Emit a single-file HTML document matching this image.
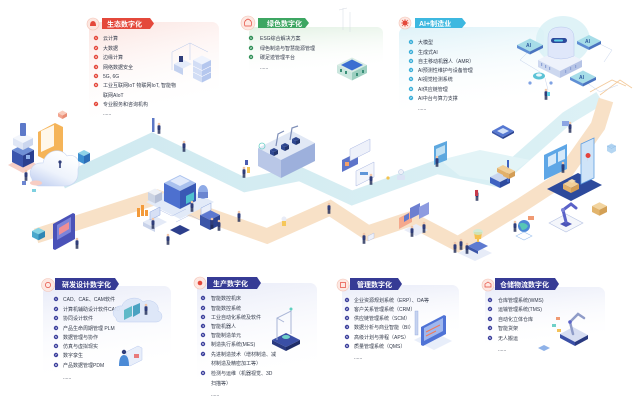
<!DOCTYPE html>
<html><head><meta charset="utf-8">
<style>
html,body{margin:0;padding:0;background:#fff;}
svg{display:block;}
text{font-family:"Liberation Sans","Noto Sans CJK SC",sans-serif;}
.it{font-size:5px;fill:#333a4a;}
.tb{font-size:7px;font-weight:bold;fill:#fff;}
.n{font-size:3px;fill:#fff;font-weight:bold;}
</style></head>
<body>
<svg width="634" height="404" viewBox="0 0 634 404" xmlns="http://www.w3.org/2000/svg">
<defs>
<linearGradient id="gPink" x1="0" y1="0" x2="0.3" y2="1"><stop offset="0" stop-color="#fbe3df"/><stop offset="1" stop-color="#fff" stop-opacity="0"/></linearGradient>
<linearGradient id="gGreen" x1="0" y1="0" x2="0.2" y2="1"><stop offset="0" stop-color="#e2f1e3"/><stop offset="1" stop-color="#fff" stop-opacity="0"/></linearGradient>
<linearGradient id="gCyan" x1="0" y1="0" x2="0.2" y2="1"><stop offset="0" stop-color="#def2f8"/><stop offset="1" stop-color="#fff" stop-opacity="0"/></linearGradient>
<linearGradient id="gLav" x1="0" y1="0" x2="0.2" y2="1"><stop offset="0" stop-color="#e8ebf8"/><stop offset="1" stop-color="#fff" stop-opacity="0"/></linearGradient>
<linearGradient id="gBlue" x1="0" y1="0" x2="1" y2="0"><stop offset="0" stop-color="#cfe9f0"/><stop offset="1" stop-color="#dcf1f5"/></linearGradient>
<linearGradient id="gCloud" x1="0" y1="1" x2="0.6" y2="0"><stop offset="0" stop-color="#b9c9ef"/><stop offset="0.5" stop-color="#eef3fc"/><stop offset="1" stop-color="#ffffff"/></linearGradient>
<g id="p"><circle cx="0" cy="-9" r="1.3" fill="#f1c6a8"/><rect x="-1.5" y="-7.7" width="3" height="4.7" rx="0.8" fill="#2f3d7a"/><rect x="-1.3" y="-3.2" width="1.1" height="4" fill="#1f2a55"/><rect x="0.2" y="-3.2" width="1.1" height="4" fill="#1f2a55"/></g>
</defs>

<!-- card backgrounds -->
<rect x="89" y="22" width="130" height="98" rx="7" fill="url(#gPink)"/>
<rect x="249" y="27" width="134" height="48" rx="6" fill="url(#gGreen)"/>
<rect x="399" y="27" width="145" height="88" rx="7" fill="url(#gCyan)"/>
<rect x="43" y="286" width="128" height="95" rx="7" fill="url(#gLav)"/>
<rect x="197" y="283" width="120" height="105" rx="7" fill="url(#gLav)"/>
<rect x="342" y="285" width="117" height="62" rx="7" fill="url(#gLav)"/>
<rect x="485" y="287" width="120" height="62" rx="7" fill="url(#gLav)"/>

<!-- bands -->
<polyline points="62,182 152,140 245,185 300,174 352,198 437,167 497,180 567,118 600,98" fill="none" stroke="url(#gBlue)" stroke-width="14" stroke-linejoin="miter"/>
<polygon points="440,160 480,150 530,160 500,182 460,176" fill="#e3f4f7"/>
<polyline points="36,236 157,197 267,236 330,208 368,233 410,219 458,244 520,206 560,180 598,126 606,100" fill="none" stroke="#f8e1c7" stroke-width="15" stroke-linejoin="miter"/>
<polyline points="600,95 620,80 632,88" fill="none" stroke="#f3c99a" stroke-width="0.8"/>
<polyline points="590,92 612,80 626,86" fill="none" stroke="#f3c99a" stroke-width="0.8"/>

<!-- ===== left cluster ===== -->
<polygon points="8,165 23,157 38,165 23,173" fill="#f7cfc6"/>
<polygon points="12,150 23,144.5 34,150 23,155.5" fill="#6f8fd6"/>
<polygon points="12,150 23,155.5 23,167.5 12,162" fill="#3a55ad"/>
<polygon points="23,155.5 34,150 34,162 23,167.5" fill="#2a3f8f"/>
<polygon points="13,138 23,133 33,138 23,143" fill="#f3f6fc"/>
<polygon points="13,138 23,143 23,150 13,145" fill="#dfe6f5"/>
<polygon points="23,143 33,138 33,145 23,150" fill="#cbd6ee"/>
<rect x="20" y="123" width="6" height="13" rx="1" fill="#5c79c9"/>
<rect x="26" y="155" width="4" height="4" fill="#8fb0ea"/>
<polygon points="38,132 55,123 63,127 63,152 46,160 38,156" fill="#f5b458"/>
<polygon points="41,131 54,125 54,146 41,152" fill="#fff7ea"/>
<polygon points="46,160 63,152 63,156 46,162" fill="#e3953a"/>
<path d="M32,179 C27,171 33,162 43,163 C45,151 60,146 67,156 C75,153 82,161 78,169 L78,174 C78,181 72,186 65,186 L40,186 C35,186 32,183 32,179Z" fill="url(#gCloud)" stroke="#c8d5f1" stroke-width="0.6"/>
<circle cx="60" cy="162" r="1.6" fill="#2f3d7a"/><rect x="59.2" y="163" width="1.6" height="5" fill="#2f3d7a"/>
<polygon points="78,153 84,150 90,153 84,156" fill="#8fd3e8"/>
<polygon points="78,153 84,156 84,164 78,161" fill="#3d8fd0"/>
<polygon points="84,156 90,153 90,161 84,164" fill="#2d6fb8"/>
<polygon points="58,113 62.5,110.5 67,113 62.5,115.5" fill="#f9cbbb"/>
<polygon points="58,113 62.5,115.5 62.5,119 58,116.5" fill="#f2a48e"/>
<polygon points="62.5,115.5 67,113 67,116.5 62.5,119" fill="#e98d75"/>
<ellipse cx="36" cy="183" rx="6" ry="2.5" fill="#f7cdc4"/>
<rect x="22" y="181" width="4" height="4" fill="#6c86d1"/>
<rect x="32" y="189" width="4" height="3" fill="#7fd0e0"/>
<use href="#p" x="26" y="180"/>

<!-- left bottom -->
<polygon points="32,231 38.5,227.75 45,231 38.5,234.25" fill="#86d4e4"/>
<polygon points="32,231 38.5,234.25 38.5,240.25 32,237" fill="#4aa8cc"/>
<polygon points="38.5,234.25 45,231 45,237 38.5,240.25" fill="#2e86b4"/>
<polygon points="53,224 73,213 75,214 75,239 55,250 53,249" fill="#4a52b8"/>
<polygon points="57,225 71,217 71,232 57,240" fill="#7d84d9"/>
<polygon points="59,228 69,222 69,229 59,235" fill="#ef8f95"/>
<use href="#p" x="77" y="248"/>

<!-- people on blue path -->
<rect x="152" y="118" width="2.5" height="14" fill="#5d78c6"/>
<use href="#p" x="159" y="133"/>
<use href="#p" x="184" y="151"/>
<use href="#p" x="244" y="177"/>
<rect x="247" y="167" width="3" height="6" fill="#f6c75a"/>

<!-- machine -->
<polygon points="258,148 292,131 315,143 281,160" fill="#e1e8f5"/>
<polygon points="258,148 281,160 281,178 258,166" fill="#b9c7e7"/>
<polygon points="281,160 315,143 315,161 281,178" fill="#9db0dc"/>
<g fill="#2f4790">
<polygon points="270,150 274,148 278,150 274,152"/><polygon points="270,150 274,152 274,156 270,154"/><polygon points="274,152 278,150 278,154 274,156" fill="#23356e"/>
<polygon points="281,145 285,143 289,145 285,147"/><polygon points="281,145 285,147 285,151 281,149"/><polygon points="285,147 289,145 289,149 285,151" fill="#23356e"/>
<polygon points="292,139 296,137 300,139 296,141"/><polygon points="292,139 296,141 296,145 292,143"/><polygon points="296,141 300,139 300,143 296,145" fill="#23356e"/>
</g>
<g stroke="#7f8fb8" stroke-width="1.2" fill="none"><polyline points="276,146 278,134 284,131"/><polyline points="290,140 292,128 298,126"/></g>
<circle cx="262" cy="146" r="3" fill="none" stroke="#6fd0c8" stroke-width="0.8"/>
<rect x="245" y="160" width="3" height="5" fill="#4a5bb0"/>

<!-- middle server cluster -->
<polygon points="146,202 180,185 214,202 180,219" fill="#e2eaf8"/>
<polygon points="148,192 155,188.5 162,192 155,195.5" fill="#eef1f7"/>
<polygon points="148,192 155,195.5 155,203.5 148,200" fill="#ccd4e4"/>
<polygon points="155,195.5 162,192 162,200 155,203.5" fill="#b5bfd6"/>
<polygon points="164,183 180,175 196,183 180,191" fill="#a9c1ee"/>
<polygon points="164,183 180,191 180,209 164,201" fill="#4d70cf"/>
<polygon points="180,191 196,183 196,201 180,209" fill="#3959b5"/>
<polygon points="170,181 180,176 190,181 180,186" fill="#e1eafb"/>
<polygon points="186,196 194,192 194,200 186,204" fill="#4fc1cf"/>
<ellipse cx="203" cy="192" rx="5" ry="7" fill="#8eaae6"/>
<rect x="198" y="192" width="10" height="6" fill="#6a85d0"/>
<g fill="#f39a3a"><rect x="137" y="208" width="3" height="9"/><rect x="141" y="205" width="3" height="11"/><rect x="145" y="210" width="3" height="6"/></g>
<polygon points="143,222 155,216 167,222 155,228" fill="#e4eaf7"/>
<polygon points="143,222 155,228 155,232 143,226" fill="#c9d3ea"/>
<polygon points="150,212 160,207 160,215 150,220" fill="#d7e0f5" stroke="#8ea6de" stroke-width="0.5"/>
<polygon points="170,230 180,225 190,230 180,235" fill="#2d3f8c"/>
<polygon points="200,215 210,210 220,215 210,220" fill="#5d78d0"/>
<polygon points="200,215 210,220 210,230 200,225" fill="#3b55a8"/>
<polygon points="210,220 220,215 220,225 210,230" fill="#2c4290"/>
<polygon points="201,208 211,203 211,210 201,215" fill="#e9eef9" stroke="#8ea6de" stroke-width="0.5"/>
<g stroke="#9fb3e0" stroke-width="0.4" fill="none"><polyline points="160,210 172,216 186,209"/><polyline points="176,222 190,215 200,220"/></g>
<use href="#p" x="153" y="228"/>
<use href="#p" x="168" y="244"/>
<use href="#p" x="212" y="228"/>
<use href="#p" x="219" y="230"/>
<use href="#p" x="239" y="221"/>
<circle cx="284" cy="219" r="2.5" fill="#e8ecf7"/><rect x="282" y="221" width="4" height="5" fill="#f6c75a"/>
<use href="#p" x="192" y="211"/>

<!-- center-right screens -->
<polygon points="342,160 358,152 358,164 342,172" fill="#5d74c9"/>
<rect x="345" y="162" width="4" height="4" fill="#f3a06a"/>
<polygon points="350,149 370,139 370,151 350,161" fill="#eef1fa" stroke="#a9b7e2" stroke-width="0.5"/>
<polygon points="356,171 374,162 374,177 356,186" fill="#f3f5fb" stroke="#a9b7e2" stroke-width="0.5"/>
<rect x="360" y="172" width="8" height="3" fill="#5f96d8"/>
<use href="#p" x="371" y="184"/>
<polygon points="434,146 447,141 447,160 434,165" fill="#5ea8df"/>
<polygon points="436,149 445,145 445,153 436,157" fill="#bfe0f3"/>
<use href="#p" x="437" y="166"/>
<circle cx="401" cy="172" r="2.5" fill="#eef1f8" stroke="#9fb0da" stroke-width="0.4"/><rect x="397" y="175" width="8" height="5" rx="1" fill="#dbe3f5"/>
<circle cx="388" cy="178" r="1.6" fill="#f4c34f"/>
<polygon points="492,131 503,125 514,131 503,137" fill="#5678d2"/>
<polygon points="492,131 503,137 503,139 492,133" fill="#3a56a8"/>
<polygon points="503,137 514,131 514,133 503,139" fill="#2c4490"/>
<polygon points="497,131 503,128 509,131 503,134" fill="#d4e2f8"/>
<!-- forklift -->
<polygon points="490,177 500,172 510,177 500,182" fill="#c9d6ef"/>
<polygon points="490,177 500,182 500,188 490,183" fill="#3f63c2"/>
<polygon points="500,182 510,177 510,183 500,188" fill="#2e4a9e"/>
<rect x="507" y="160" width="2" height="22" fill="#3f63c2"/>
<polygon points="503,171 509,168 515,171 509,174" fill="#f2cf98"/>
<polygon points="503,171 509,174 509,179 503,176" fill="#e2b06a"/>
<polygon points="509,174 515,171 515,176 509,179" fill="#d39d55"/>
<polygon points="497,168 503,165 509,168 503,171" fill="#f2cf98"/>
<polygon points="497,168 503,171 503,175 497,172" fill="#e2b06a"/>
<use href="#p" x="477" y="200"/>
<rect x="475" y="190" width="3" height="6" fill="#c73a4a"/>
<!-- right blue panels -->
<polygon points="547,189 578,173 602,185 571,201" fill="#2d4a9c"/>
<polygon points="544,155 567,144 567,169 544,180" fill="#5ea6e6"/>
<polygon points="548,157 556,153 556,163 548,167" fill="#d5e9fa"/>
<polygon points="558,152 565,149 565,159 558,162" fill="#d5e9fa"/>
<polygon points="581,144 594,138 594,178 581,184" fill="#cfe4f8" stroke="#5e9de0" stroke-width="0.8"/>
<path d="M588,158 a2.5,2.5 0 1 1 0.1,0 l-1.3,4 z" fill="#e4433c"/>
<polygon points="563,184 571,180 579,184 571,188" fill="#f2cf98"/>
<polygon points="563,184 571,188 571,193 563,189" fill="#e2b06a"/>
<polygon points="571,188 579,184 579,189 571,193" fill="#d39d55"/>
<polygon points="568,181 572,179 576,181 572,183" fill="#f6dcb0"/>
<use href="#p" x="563" y="172"/>
<polygon points="607,146 611.5,143.5 616,146 616,151 611.5,153.5 607,151" fill="#b5d6f2"/>
<polygon points="607,146 611.5,148.5 616,146" fill="none" stroke="#8ebde8" stroke-width="0.5"/>
<use href="#p" x="570" y="132"/>
<rect x="562" y="121" width="7" height="5" fill="#8ca5e3"/>
<!-- robot arm -->
<polygon points="549,223 566,214 583,223 566,232" fill="#f4f6fb" stroke="#b7c3e3" stroke-width="0.6"/>
<polygon points="560,224 566,221 572,224 566,227" fill="#4b54b8"/>
<polyline points="566,222 563,210 571,204 576,208" fill="none" stroke="#5a62c8" stroke-width="3" stroke-linecap="round"/>
<circle cx="563" cy="210" r="2" fill="#7a82d8"/>
<polygon points="592,206 599.5,202.25 607,206 599.5,209.75" fill="#f2d49f"/>
<polygon points="592,206 599.5,209.75 599.5,215.75 592,212" fill="#e2b46c"/>
<polygon points="599.5,209.75 607,206 607,212 599.5,215.75" fill="#d3a055"/>
<circle cx="524" cy="226" r="6" fill="#4c87d6"/><path d="M519,224 q5,-3 9,2 q-2,4 -6,4z" fill="#56c6b5"/>
<polygon points="516,236 524,232 532,236 524,240" fill="none" stroke="#9fc3ee" stroke-width="0.6"/>
<use href="#p" x="515" y="231"/>
<rect x="528" y="216" width="6" height="4" fill="#f09a73"/>
<!-- trophy & people -->
<polygon points="458,253 475,245 492,253 475,261" fill="#e7ecf8"/>
<polygon points="468,246 478,241 488,246 478,251" fill="#5e7ad0"/>
<polygon points="468,246 478,251 478,254 468,249" fill="#3c56a9"/>
<path d="M474,232 h8 l-1,7 h-2 v3 h-2 v-3 h-2 z" fill="#f4c14e"/>
<ellipse cx="478" cy="232" rx="5" ry="3" fill="#bff0e0" opacity="0.7"/>
<use href="#p" x="455" y="252"/>
<use href="#p" x="461" y="249"/>
<use href="#p" x="467" y="253"/>
<!-- meeting -->
<polygon points="399,218 412,211 412,222 399,229" fill="#f5a98c"/>
<polygon points="410,208 420,203 420,214 410,219" fill="#6d7fd0"/>
<polygon points="419,207 429,202 429,214 419,219" fill="#8d9be0"/>
<polygon points="404,216 409,213 409,219 404,222" fill="#6079cd"/>
<polygon points="404,230 416,224 428,230 416,236" fill="#e8ecf8"/>
<use href="#p" x="412" y="236"/>
<use href="#p" x="424" y="232"/>
<use href="#p" x="329" y="213"/>
<use href="#p" x="364" y="243"/>
<polygon points="368,236 374,233 374,238 368,241" fill="#eef1fa" stroke="#a9b7e2" stroke-width="0.4"/>

<!-- ===== top-left card ===== -->
<polygon points="102,18 150,18 154,23.5 150,29 102,29" fill="#e4483b"/>
<circle cx="93" cy="24" r="6" fill="#fde6df" stroke="#f4c3b6" stroke-width="0.6"/>
<path d="M90,26 q0,-5 3,-5 q3,0 3,5z" fill="#e4483b"/>
<text x="107" y="26.5" class="tb">生态数字化</text>
<g fill="#e4483b"><circle cx="96" cy="38" r="2.2"/><circle cx="96" cy="48" r="2.2"/><circle cx="96" cy="57" r="2.2"/><circle cx="96" cy="67" r="2.2"/><circle cx="96" cy="76" r="2.2"/><circle cx="96" cy="85" r="2.2"/><circle cx="96" cy="104" r="2.2"/></g>
<g class="n" text-anchor="middle"><text x="96" y="39">1</text><text x="96" y="49">2</text><text x="96" y="58">3</text><text x="96" y="68">4</text><text x="96" y="77">5</text><text x="96" y="86">6</text><text x="96" y="105">7</text></g>
<g class="it"><text x="103" y="40">云计算</text><text x="103" y="50">大数据</text><text x="103" y="59">边缘计算</text><text x="103" y="69">网络数据安全</text><text x="103" y="78">5G, 6G</text><text x="103" y="87">工业互联网IoT 物联网IoT, 智能物</text><text x="103" y="97">联网AIoT</text><text x="103" y="106">专业服务和咨询机构</text><text x="103" y="115">......</text></g>
<!-- top-left illus -->
<g stroke="#b9c9ec" stroke-width="0.5" fill="none"><polyline points="172,52 190,43 208,52"/><polyline points="172,52 172,70"/><polyline points="190,43 190,60"/></g>
<polygon points="174,64 183,59.5 192,64 183,68.5" fill="#e5ecfa"/>
<polygon points="174,64 183,68.5 183,75 174,70.5" fill="#c3d1ef"/>
<rect x="179" y="56" width="4" height="6" fill="#2f3d7a"/>
<polygon points="193,60 202,55.5 211,60 202,64.5" fill="#eef3fd"/>
<polygon points="193,60 202,64.5 202,82.5 193,78" fill="#d2ddf5"/>
<polygon points="202,64.5 211,60 211,78 202,82.5" fill="#b5c7ee"/>
<g stroke="#ffffff" stroke-width="0.6"><line x1="193" y1="66" x2="202" y2="70.5"/><line x1="193" y1="72" x2="202" y2="76.5"/><line x1="202" y1="70.5" x2="211" y2="66"/><line x1="202" y1="76.5" x2="211" y2="72"/></g>

<!-- ===== top-middle card ===== -->
<polygon points="258,18 305,18 309,23 305,28 258,28" fill="#3da662"/>
<circle cx="248" cy="23" r="7" fill="#fde8e2" stroke="#f4c3b6" stroke-width="0.6"/>
<path d="M245,26 q-2,-5 3,-7 q5,2 3,7z" fill="none" stroke="#e4483b" stroke-width="0.7"/>
<text x="267" y="26" class="tb">绿色数字化</text>
<g fill="#2f8f56"><circle cx="251" cy="38" r="2.2"/><circle cx="251" cy="48" r="2.2"/><circle cx="251" cy="57" r="2.2"/></g>
<g class="n" text-anchor="middle"><text x="251" y="39">1</text><text x="251" y="49">2</text><text x="251" y="58">3</text></g>
<g class="it"><text x="260" y="40">ESG综合解决方案</text><text x="260" y="50">绿色制造与智慧能源管理</text><text x="260" y="59">碳足迹管理平台</text><text x="260" y="69">......</text></g>
<g stroke="#d5dbe3" stroke-width="0.5"><line x1="343" y1="8" x2="343" y2="30"/><line x1="350" y1="12" x2="350" y2="32"/><line x1="339" y1="10" x2="347" y2="8"/></g>
<polygon points="337,65 352,57.5 367,65 352,72.5" fill="#d9ece4"/>
<polygon points="341,65 352,59.5 363,65 352,70.5" fill="#3b6fd1"/>
<polygon points="337,65 352,72.5 352,80.5 337,73" fill="#cbe6de"/>
<polygon points="352,72.5 367,65 367,73 352,80.5" fill="#9dcfc0"/>
<g fill="#3a8f78"><rect x="340" y="69" width="2" height="3"/><rect x="345" y="71" width="2" height="3"/><rect x="356" y="73" width="2" height="3"/><rect x="362" y="70" width="2" height="3"/></g>

<!-- ===== top-right card ===== -->
<polygon points="415,18 462,18 466,23 462,28 415,28" fill="#3db8e0"/>
<circle cx="405" cy="23" r="6" fill="#fde8e2" stroke="#f4c3b6" stroke-width="0.6"/>
<circle cx="405" cy="23" r="2.5" fill="#e4483b"/>
<g stroke="#e4483b" stroke-width="0.6"><line x1="401" y1="23" x2="409" y2="23"/><line x1="405" y1="19" x2="405" y2="27"/><line x1="402" y1="20" x2="408" y2="26"/><line x1="408" y1="20" x2="402" y2="26"/></g>
<text x="419" y="26" class="tb">AI+制造业</text>
<g fill="#3aaed8"><circle cx="411" cy="42" r="2.2"/><circle cx="411" cy="52" r="2.2"/><circle cx="411" cy="61" r="2.2"/><circle cx="411" cy="70" r="2.2"/><circle cx="411" cy="79" r="2.2"/><circle cx="411" cy="89" r="2.2"/><circle cx="411" cy="98" r="2.2"/></g>
<g class="n" text-anchor="middle"><text x="411" y="43">1</text><text x="411" y="53">2</text><text x="411" y="62">3</text><text x="411" y="71">4</text><text x="411" y="80">5</text><text x="411" y="90">6</text><text x="411" y="99">7</text></g>
<g class="it"><text x="418" y="44">大模型</text><text x="418" y="54">生成式AI</text><text x="418" y="63">自主移动机器人（AMR）</text><text x="418" y="72">AI预测性维护与设备管理</text><text x="418" y="81">AI视觉检测系统</text><text x="418" y="91">AI供应链管理</text><text x="418" y="100">AI中台与算力支撑</text><text x="418" y="110">......</text></g>
<!-- AI illus -->
<ellipse cx="563" cy="40" rx="27" ry="24" fill="#d7f0f5" opacity="0.8"/>
<g stroke="#b7c6e6" stroke-width="0.4" fill="none"><polyline points="530,50 520,60 540,72"/><polyline points="596,42 612,50 604,62"/><polyline points="583,80 600,92 618,85"/><polyline points="545,78 548,90"/></g>
<polygon points="538,60 560,49 582,60 560,71" fill="#eef2fb"/>
<polygon points="538,60 560,71 560,78 538,67" fill="#cdd8ef"/>
<polygon points="560,71 582,60 582,67 560,78" fill="#b6c4e6"/>
<g fill="#8fa3d6"><rect x="541" y="63" width="1.2" height="3"/><rect x="545" y="65" width="1.2" height="3"/><rect x="549" y="67" width="1.2" height="3"/><rect x="565" y="70" width="1.2" height="3"/><rect x="570" y="67" width="1.2" height="3"/><rect x="575" y="65" width="1.2" height="3"/></g>
<path d="M548,56 L548,38 Q548,27 561,27 Q574,27 574,38 L574,56 Q561,62 548,56Z" fill="#dfe7fa" stroke="#b8c7ec" stroke-width="0.5"/>
<rect x="551" y="38" width="16" height="5" rx="2.5" fill="#2d4a9c"/>
<rect x="554" y="39.5" width="9" height="2" rx="1" fill="#5fd0e6"/>
<polygon points="517,45 530,38.5 543,45 530,51.5" fill="#a7dde8"/>
<polygon points="517,45 530,51.5 530,54.5 517,48" fill="#5f8fd4"/>
<polygon points="530,51.5 543,45 543,48 530,54.5" fill="#4a74bf"/>
<text x="526" y="47" font-size="5" font-weight="bold" fill="#2d5aa0">AI</text>
<polygon points="577,41 589,35 601,41 589,47" fill="#a7dde8"/>
<polygon points="577,41 589,47 589,50 577,44" fill="#5f8fd4"/>
<polygon points="589,47 601,41 601,44 589,50" fill="#4a74bf"/>
<text x="585" y="43" font-size="5" font-weight="bold" fill="#2d5aa0">AI</text>
<polygon points="570,77 583,70.5 596,77 583,83.5" fill="#a7dde8"/>
<polygon points="570,77 583,83.5 583,86.5 570,80" fill="#5f8fd4"/>
<polygon points="583,83.5 596,77 596,80 583,86.5" fill="#4a74bf"/>
<text x="579" y="79" font-size="5" font-weight="bold" fill="#2d5aa0">AI</text>
<ellipse cx="539" cy="76" rx="6" ry="3.5" fill="#5cc3d6"/><ellipse cx="539" cy="75" rx="3" ry="1.6" fill="#e9f8fb"/>
<circle cx="530" cy="83" r="1.6" fill="#7fa2e3"/><circle cx="551" cy="83" r="1.6" fill="#7fa2e3"/>
<use href="#p" x="546" y="99"/>
<rect x="547" y="92" width="3" height="4" fill="#5fd0e6"/>

<!-- ===== bottom cards ===== -->
<polygon points="55,278 115,278 119,284 115,290 55,290" fill="#363b95"/>
<circle cx="48" cy="285" r="6.5" fill="#fde8e2" stroke="#f4c3b6" stroke-width="0.6"/>
<circle cx="48" cy="285" r="2.6" fill="none" stroke="#e4483b" stroke-width="0.7"/>
<text x="62" y="287" class="tb">研发设计数字化</text>
<g fill="#3b3f9c"><circle cx="56" cy="299" r="2.2"/><circle cx="56" cy="309" r="2.2"/><circle cx="56" cy="318" r="2.2"/><circle cx="56" cy="328" r="2.2"/><circle cx="56" cy="337" r="2.2"/><circle cx="56" cy="346" r="2.2"/><circle cx="56" cy="355" r="2.2"/><circle cx="56" cy="365" r="2.2"/></g>
<g class="n" text-anchor="middle"><text x="56" y="300">1</text><text x="56" y="310">2</text><text x="56" y="319">3</text><text x="56" y="329">4</text><text x="56" y="338">5</text><text x="56" y="347">6</text><text x="56" y="356">7</text><text x="56" y="366">8</text></g>
<g class="it"><text x="63" y="301">CAD、CAE、CAM软件</text><text x="63" y="311">计算机辅助设计软件CAID</text><text x="63" y="320">协同设计软件</text><text x="63" y="330">产品生命周期管理 PLM</text><text x="63" y="339">数据管理与协作</text><text x="63" y="348">仿真与虚拟现实</text><text x="63" y="357">数字孪生</text><text x="63" y="367">产品数据管理PDM</text><text x="63" y="379">......</text></g>
<path d="M116,318 C110,314 114,305 122,306 C124,298 138,295 143,302 C150,298 160,303 158,311 C164,313 163,322 156,322 L120,322 C117,322 116,320 116,318Z" fill="#dde7f8" stroke="#b8c9ee" stroke-width="0.5" opacity="0.95"/>
<polygon points="124,310 132,306 132,316 124,320" fill="#5fb9c8"/>
<polygon points="133,306 140,303 140,313 133,317" fill="#4aa2c2"/>
<use href="#p" x="146" y="314"/>
<polygon points="126,352 138,346 142,348 142,360 130,366 126,364" fill="#e8eefa" stroke="#b8c9ee" stroke-width="0.5"/>
<rect x="134" y="354" width="5" height="4" fill="#e87a7a"/>
<circle cx="124" cy="352" r="2.2" fill="#2f3d7a"/><path d="M119,366 q0,-11 5,-11 q5,0 5,11z" fill="#4b8ad6"/>

<polygon points="207,277 257,277 261,283 257,289 207,289" fill="#363b95"/>
<circle cx="200" cy="283" r="6" fill="#fde8e2" stroke="#f4c3b6" stroke-width="0.6"/>
<circle cx="200" cy="283" r="2.3" fill="#e4483b"/>
<text x="213" y="286" class="tb">生产数字化</text>
<g fill="#3b3f9c"><circle cx="203" cy="298" r="2.2"/><circle cx="203" cy="308" r="2.2"/><circle cx="203" cy="317" r="2.2"/><circle cx="203" cy="326" r="2.2"/><circle cx="203" cy="335" r="2.2"/><circle cx="203" cy="344" r="2.2"/><circle cx="203" cy="354" r="2.2"/><circle cx="203" cy="373" r="2.2"/></g>
<g class="n" text-anchor="middle"><text x="203" y="299">1</text><text x="203" y="309">2</text><text x="203" y="318">3</text><text x="203" y="327">4</text><text x="203" y="336">5</text><text x="203" y="345">6</text><text x="203" y="355">7</text><text x="203" y="374">8</text></g>
<g class="it"><text x="211" y="300">智能数控机床</text><text x="211" y="310">智能数控系统</text><text x="211" y="319">工业自动化系统及软件</text><text x="211" y="328">智能机器人</text><text x="211" y="337">智能制造单元</text><text x="211" y="346">制造执行系统(MES)</text><text x="211" y="356">先进制造技术（增材制造、减</text><text x="211" y="365">材制造及精密加工等）</text><text x="211" y="375">检测与运维（机器视觉、3D</text><text x="211" y="385">扫描等）</text><text x="211" y="396">......</text></g>
<polygon points="272,340 286,333 300,340 286,347" fill="#3a4fa6"/>
<polygon points="272,340 286,347 286,351 272,344" fill="#2a3a80"/>
<polygon points="286,347 300,340 300,344 286,351" fill="#1f2d68"/>
<g stroke="#a9b5d6" stroke-width="1" fill="none"><polyline points="277,340 277,318 291,311 291,334"/><line x1="277" y1="318" x2="284" y2="322"/></g>
<ellipse cx="286" cy="337" rx="4" ry="2" fill="#6fd0c8"/>
<circle cx="291" cy="309" r="1.5" fill="#5fd0c0"/>

<polygon points="350,278 398,278 402,284 398,290 350,290" fill="#363b95"/>
<circle cx="343" cy="285" r="6" fill="#fde8e2" stroke="#f4c3b6" stroke-width="0.6"/>
<rect x="340.5" y="282.5" width="5" height="5" fill="none" stroke="#e4483b" stroke-width="0.7"/>
<text x="357" y="287" class="tb">管理数字化</text>
<g fill="#3b3f9c"><circle cx="347" cy="300" r="2.2"/><circle cx="347" cy="309" r="2.2"/><circle cx="347" cy="318" r="2.2"/><circle cx="347" cy="327" r="2.2"/><circle cx="347" cy="337" r="2.2"/><circle cx="347" cy="346" r="2.2"/></g>
<g class="n" text-anchor="middle"><text x="347" y="301">1</text><text x="347" y="310">2</text><text x="347" y="319">3</text><text x="347" y="328">4</text><text x="347" y="338">5</text><text x="347" y="347">6</text></g>
<g class="it"><text x="354" y="302">企业资源规划系统（ERP）、OA等</text><text x="354" y="311">客户关系管理系统（CRM）</text><text x="354" y="320">供应链管理系统（SCM）</text><text x="354" y="329">数据分析与商业智能（BI）</text><text x="354" y="339">高级计划与排程（APS）</text><text x="354" y="348">质量管理系统（QMS）</text><text x="354" y="359">......</text></g>
<polygon points="414,340 432,331 452,341 434,350" fill="#e8eefa"/>
<rect x="415" y="311" width="3" height="24" fill="#c6d3f0" stroke="#8ea6de" stroke-width="0.4"/>
<polygon points="421,327 444,315 446,316 446,334 423,346 421,345" fill="#4f73d6"/>
<polygon points="424,328 443,318 443,331 424,341" fill="#9fb7ee"/>
<g stroke="#f07a5a" stroke-width="1"><line x1="426" y1="332" x2="440" y2="325"/><line x1="426" y1="336" x2="436" y2="331"/></g>

<polygon points="495,278 555,278 559,284 555,290 495,290" fill="#363b95"/>
<circle cx="488" cy="285" r="6" fill="#fde8e2" stroke="#f4c3b6" stroke-width="0.6"/>
<path d="M485,287 v-3 l3,-2 l3,2 v3z" fill="none" stroke="#e4483b" stroke-width="0.7"/>
<text x="500" y="287" class="tb">仓储物流数字化</text>
<g fill="#3b3f9c"><circle cx="490" cy="300" r="2.2"/><circle cx="490" cy="309" r="2.2"/><circle cx="490" cy="319" r="2.2"/><circle cx="490" cy="328" r="2.2"/><circle cx="490" cy="338" r="2.2"/></g>
<g class="n" text-anchor="middle"><text x="490" y="301">1</text><text x="490" y="310">2</text><text x="490" y="320">3</text><text x="490" y="329">4</text><text x="490" y="339">5</text></g>
<g class="it"><text x="498" y="302">仓库管理系统(WMS)</text><text x="498" y="311">运输管理系统(TMS)</text><text x="498" y="321">自动化立体仓库</text><text x="498" y="330">智能货架</text><text x="498" y="340">无人搬运</text><text x="498" y="351">......</text></g>
<polygon points="560,334 573,327 588,335 575,342" fill="#d7def2"/>
<polygon points="560,334 575,342 575,346 560,338" fill="#3a4fa6"/>
<polygon points="575,342 588,335 588,339 575,346" fill="#2a3a80"/>
<polyline points="573,334 570,322 578,314 584,318" fill="none" stroke="#8f9cc8" stroke-width="2.5" stroke-linecap="round"/>
<circle cx="570" cy="322" r="1.8" fill="#5a62c8"/>
<rect x="556" y="317" width="4" height="3" fill="#f09a73"/><rect x="552" y="324" width="4" height="3" fill="#6fd0c8"/><rect x="557" y="329" width="4" height="3" fill="#f3c25a"/>
<polygon points="538,348 544,345 550,348 544,351" fill="#8fb2e8"/>
</svg>
</body></html>
